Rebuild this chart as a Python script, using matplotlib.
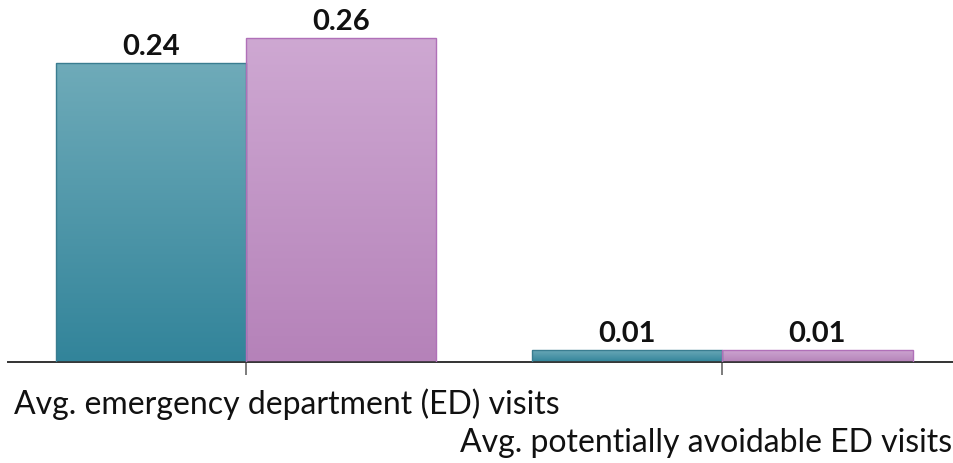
import numpy as np
import matplotlib.pyplot as plt
from matplotlib.colors import LinearSegmentedColormap

###### DATA ######

categories = ["Avg. emergency department (ED) visits",
              "Avg. potentially avoidable ED visits"]
group_a = [0.24, 0.01]
group_b = [0.26, 0.01]

###### STYLE ######

teal_top, teal_bottom, teal_edge = "#6fabb9", "#32849a", "#3a7d90"
pink_top, pink_bottom, pink_edge = "#cea8d2", "#b582b9", "#b070b8"
bar_width = 0.4

plt.rcParams['font.family'] = ['Lato', 'DejaVu Sans']

fig = plt.figure(figsize=(9.54, 4.64), dpi=100)
ax = fig.add_axes([8 / 954, 101 / 464, 946 / 954, 363 / 464])

x = np.arange(len(categories))


def gradient_bars(xs, values, top, bottom, edge):
    bars = ax.bar(xs, values, width=bar_width, color="none", edgecolor=edge,
                  linewidth=1.0, zorder=3)
    cmap = LinearSegmentedColormap.from_list("grad", [bottom, top])
    grad = np.linspace(0, 1, 256).reshape(-1, 1)
    for bar in bars:
        x0, y0 = bar.get_x(), bar.get_y()
        w, h = bar.get_width(), bar.get_height()
        img = ax.imshow(grad, cmap=cmap, origin="lower", aspect="auto",
                        extent=(x0, x0 + w, y0, y0 + h), zorder=2)
        img.set_clip_path(bar)
    return bars


bars_a = gradient_bars(x - bar_width / 2, group_a, teal_top, teal_bottom, teal_edge)
bars_b = gradient_bars(x + bar_width / 2, group_b, pink_top, pink_bottom, pink_edge)

# value labels above each bar
for bars in (bars_a, bars_b):
    for bar in bars:
        h = bar.get_height()
        ax.annotate(f"{h:.2f}", xy=(bar.get_x() + bar.get_width() / 2, h),
                    xytext=(0, 6.5), textcoords="offset points",
                    ha="center", va="baseline", fontsize=21, fontweight="bold",
                    color="#111111")

ax.set_xlim(-0.5, 1.487)
ax.set_ylim(0, 0.2913)

for side in ("top", "right", "left"):
    ax.spines[side].set_visible(False)
ax.spines["bottom"].set_color("#333333")
ax.spines["bottom"].set_linewidth(1.4)
ax.set_yticks([])
ax.set_xticks(x)
ax.set_xticklabels([])
ax.tick_params(axis="x", direction="out", length=9, width=1.2, color="#666666")

# staggered category labels
ax.annotate(categories[0], xy=(-0.487, 0), xycoords=("data", "axes fraction"),
            xytext=(0, -36.7), textcoords="offset points",
            ha="left", va="baseline", fontsize=23, color="#111111")
ax.annotate(categories[1], xy=(1.483, 0), xycoords=("data", "axes fraction"),
            xytext=(0, -64), textcoords="offset points",
            ha="right", va="baseline", fontsize=23, color="#111111")

fig.savefig("out.png", dpi=100)
